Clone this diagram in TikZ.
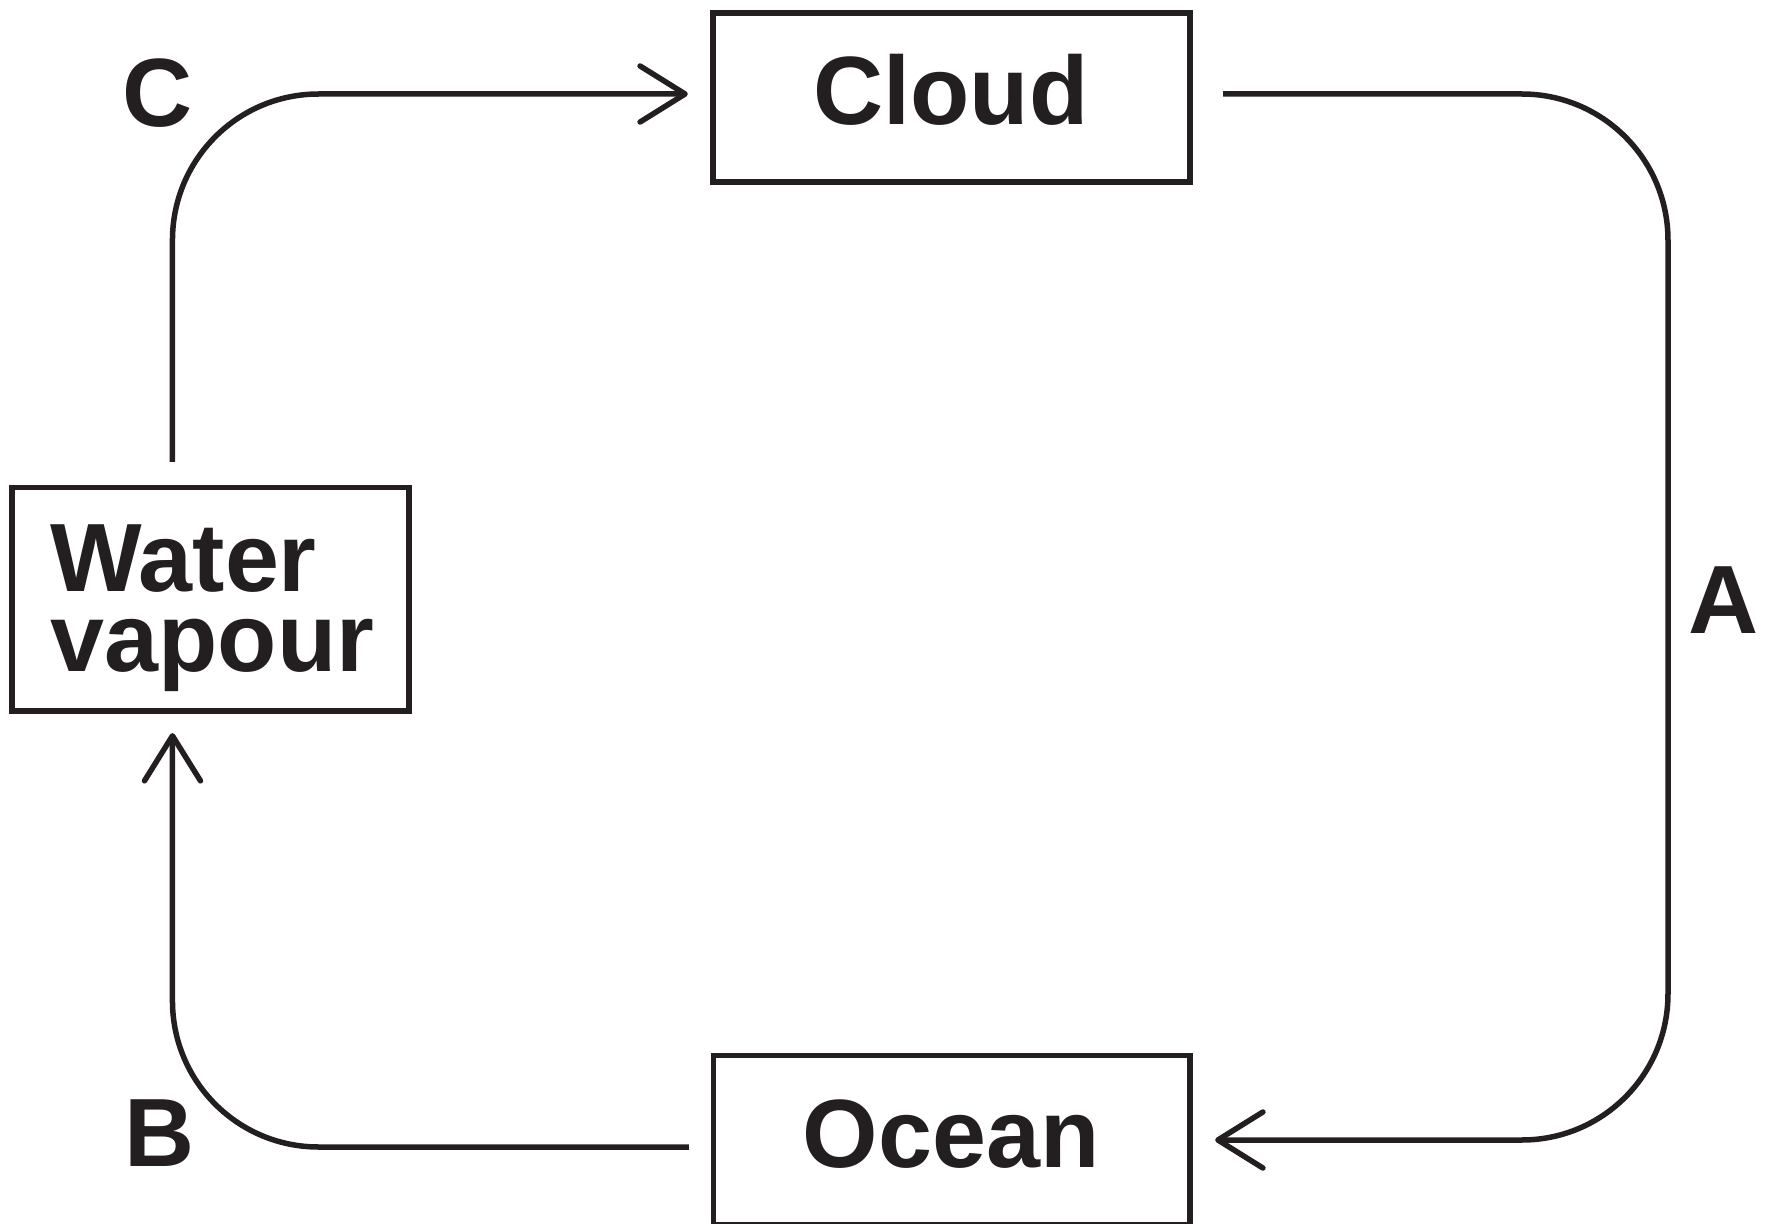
\documentclass[tikz,border=0pt]{standalone}
\usepackage{fontspec}
\setmainfont{Liberation Sans}
\usetikzlibrary{arrows.meta}
\definecolor{ink}{HTML}{231F20}
\begin{document}
\begin{tikzpicture}[x=0.01cm, y=-0.01cm,
  box/.style={draw=ink, line width=0.055cm, inner sep=0pt, outer sep=0pt},
  conn/.style={draw=ink, line width=0.055cm, rounded corners=1.46cm},
  arr/.style={-{Straight Barb[length=0.45cm, width=0.56cm, round]}},
  txt/.style={font=\fontsize{27.6pt}{33pt}\selectfont\bfseries, text=ink, inner sep=0pt, anchor=base}]
\useasboundingbox (0,0) rectangle (1768,1224);
% boxes
\node[box, minimum width=4.77cm, minimum height=1.69cm] (cloud) at (951.5,97.5) {};
\node[box, minimum width=3.97cm, minimum height=2.235cm] (wv) at (210.5,599.25) {};
\node[box, minimum width=4.765cm, minimum height=1.69cm] (ocean) at (951.75,1140) {};
% box texts
\node[txt] (cloudt) at (951,124) {Cloud};
\node[txt] (oceant) at (951,1167) {Ocean};
\node[txt, anchor=base west] (wvt1) at (50,591) {Water};
\node[txt, anchor=base west] (wvt2) at (50,671) {vapour};
% labels
\node[txt] (lc) at (157.5,126.5) {C};
\node[txt] (lb) at (160,1166) {B};
\node[txt] (la) at (1723.5,633) {A};
% connectors
\coordinate (corner) at (1668,1140);
\draw[conn, arr] ([xshift=-0.38cm, yshift=0.255cm]wv.north) |- ([xshift=-0.25cm, yshift=0.035cm]cloud.west);
\draw[conn, arr] ([xshift=0.33cm, yshift=0.035cm]cloud.east) -| (corner) -- ([xshift=0.25cm]ocean.east);
\draw[conn, arr] ([xshift=-0.245cm, yshift=-0.07cm]ocean.west) -| ([xshift=-0.38cm, yshift=-0.22cm]wv.south);
\end{tikzpicture}
\end{document}
